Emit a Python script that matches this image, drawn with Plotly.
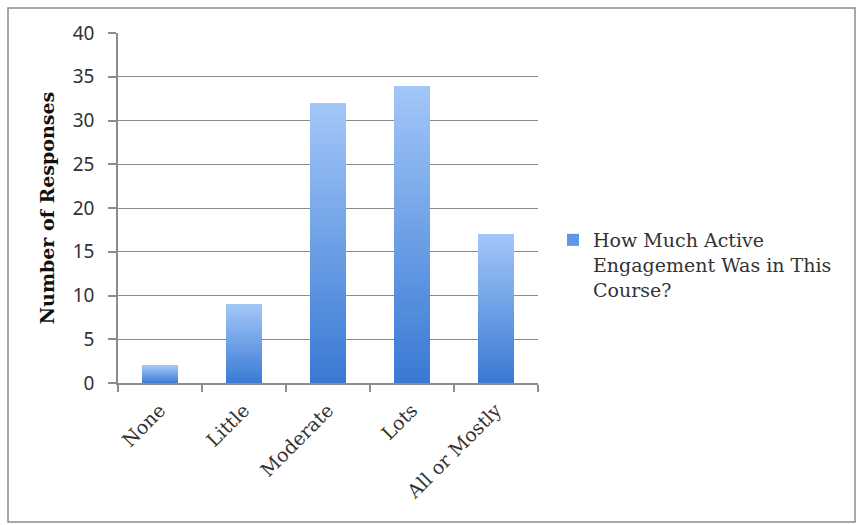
import plotly.graph_objects as go

categories = ["None", "Little", "Moderate", "Lots", "All or Mostly"]
values = [2, 9, 32, 34, 17]
series_name = "How Much Active<br>Engagement Was in This<br>Course?"
y_ticks = [0, 5, 10, 15, 20, 25, 30, 35, 40]

# vertical gradient: bottom (dark) -> top (light)
bottom_rgb = (58, 122, 212)
top_rgb = (162, 198, 248)
N = 40

def mix(t):
    return "rgb(%d,%d,%d)" % tuple(round(b + (u - b) * t) for b, u in zip(bottom_rgb, top_rgb))

fig = go.Figure()
for k in range(N):
    fig.add_trace(go.Bar(
        x=categories,
        y=[v / N for v in values],
        marker=dict(color=mix(k / (N - 1)), line=dict(width=0)),
        showlegend=False,
        hoverinfo="skip",
    ))
# legend entry
fig.add_trace(go.Bar(
    x=categories, y=[0] * len(categories),
    name=series_name,
    marker=dict(color="rgb(95,150,230)", line=dict(width=0)),
    showlegend=True, hoverinfo="skip",
))

L, R, T, B = 118, 319, 33, 142
W, H = 857, 525
pw, ph = W - L - R, H - T - B

fig.update_layout(
    width=W, height=H,
    barmode="stack",
    bargap=0.58,
    paper_bgcolor="white",
    plot_bgcolor="white",
    margin=dict(l=L, r=R, t=T, b=B, autoexpand=False),
    font=dict(family="DejaVu Serif", size=18, color="#333333"),
    xaxis=dict(
        showline=True, linecolor="#8c8c8c", linewidth=1.5,
        ticks="outside", ticklen=7, tickcolor="#8c8c8c", tickwidth=1.5,
        tickson="boundaries",
        tickangle=-45,
        tickfont=dict(family="DejaVu Serif", size=19, color="#333333"),
        ticklabelstandoff=7,
        showgrid=False,
    ),
    yaxis=dict(
        range=[0, 40], tickvals=y_ticks,
        showline=True, linecolor="#8c8c8c", linewidth=1.5,
        ticks="outside", ticklen=8, tickcolor="#8c8c8c", tickwidth=1.5,
        showgrid=True, gridcolor="#8c8c8c", gridwidth=1.2,
        zeroline=False,
        tickfont=dict(family="Noto Sans", size=19, color="#333333"),
        ticklabelstandoff=10,
        title=dict(text="<b>Number of Responses</b>",
                   font=dict(family="DejaVu Serif", size=19, color="#111111"),
                   standoff=13),
    ),
    legend=dict(
        x=(553 - L) / pw, y=(383 - 221) / ph, xanchor="left", yanchor="top",
        valign="top",
        font=dict(family="DejaVu Serif", size=19, color="#333333"),
        bgcolor="rgba(0,0,0,0)",
    ),
    shapes=[dict(
        type="rect", xref="paper", yref="paper",
        x0=(8 - L) / pw, x1=(855 - L) / pw,
        y0=(383 - 522) / ph, y1=(383 - 8) / ph,
        line=dict(color="#8a8a8a", width=1.5), fillcolor="rgba(0,0,0,0)",
        layer="below",
    )],
)

fig.write_html("out.html")
